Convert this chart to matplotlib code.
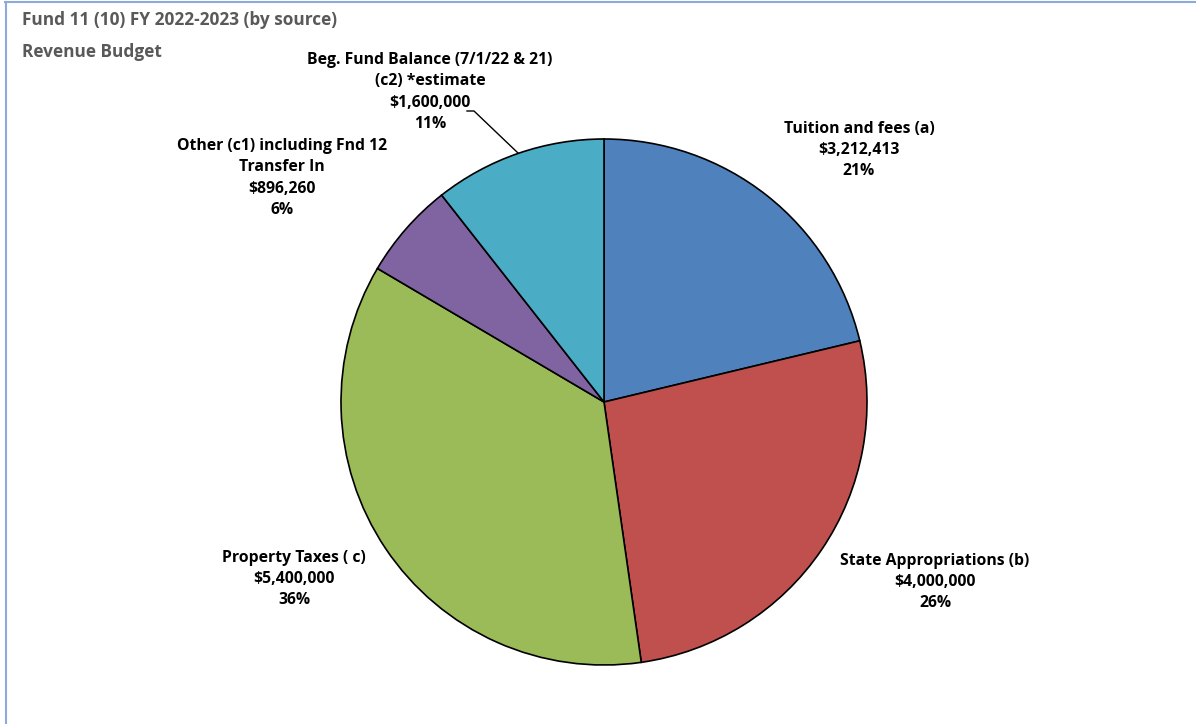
import matplotlib
matplotlib.use("Agg")
import matplotlib.pyplot as plt
from matplotlib.lines import Line2D

# datos
sources = ["Tuition and fees (a)", "State Appropriations (b)", "Property Taxes ( c)",
           "Other (c1) including Fnd 12\nTransfer In", "Beg. Fund Balance (7/1/22 & 21)\n(c2) *estimate"]
amounts = [3212413, 4000000, 5400000, 896260, 1600000]
colors = ["#4F81BD", "#C0504D", "#9BBB59", "#8064A2", "#4BACC6"]

plt.rcParams['font.family'] = ['Open Sans', 'DejaVu Sans']

W, H = 1196, 724
fig = plt.figure(figsize=(W / 100, H / 100), dpi=100)

# pie position in pixels: centre (604, 402), radius 263
cx, cy, r = 604, 402, 263
ax = fig.add_axes([(cx - r) / W, (H - cy - r) / H, 2 * r / W, 2 * r / H])
ax.pie(amounts, colors=colors, startangle=90, counterclock=False,
       wedgeprops=dict(edgecolor="black", linewidth=1.2))
ax.set_xlim(-1, 1)
ax.set_ylim(-1, 1)
ax.set_aspect("equal")


def px(x, y):
    # pixel -> data coords of the pie axes
    return (x - cx) / r, (cy - y) / r


total = sum(amounts)
label_px = [(859, 150), (935, 582), (294, 579), (282, 178), (430, 92)]
for name, val, (lx, ly) in zip(sources, amounts, label_px):
    txt = "%s\n$%s\n%d%%" % (name, format(val, ","), round(100 * val / total))
    x, y = px(lx, ly)
    ax.text(x, y, txt, ha="center", va="center", fontsize=11.3, fontweight="bold",
            linespacing=1.42, color="black", clip_on=False)

# leader line for the beginning fund balance label
p1, p2, p3 = px(467, 111), px(474, 111), px(518, 153)
ax.add_line(Line2D([p1[0], p2[0], p3[0]], [p1[1], p2[1], p3[1]], color="black",
                   linewidth=1, clip_on=False))

# title
fig.text(22 / W, 1 - 20 / H, "Fund 11 (10) FY 2022-2023 (by source)", fontsize=12.4,
         fontweight="bold", color="#595959", va="center", ha="left")
fig.text(22 / W, 1 - 52 / H, "Revenue Budget", fontsize=12.4,
         fontweight="bold", color="#595959", va="center", ha="left")

# chart frame (only top and left edges are visible)
fig.add_artist(Line2D([5 / W, 1], [1 - 1.5 / H, 1 - 1.5 / H], color="#8EAADB", linewidth=1.5,
                      transform=fig.transFigure))
fig.add_artist(Line2D([5.5 / W, 5.5 / W], [0, 1 - 1.5 / H], color="#8EAADB", linewidth=1.5,
                      transform=fig.transFigure))

fig.savefig("out.png", dpi=100)
